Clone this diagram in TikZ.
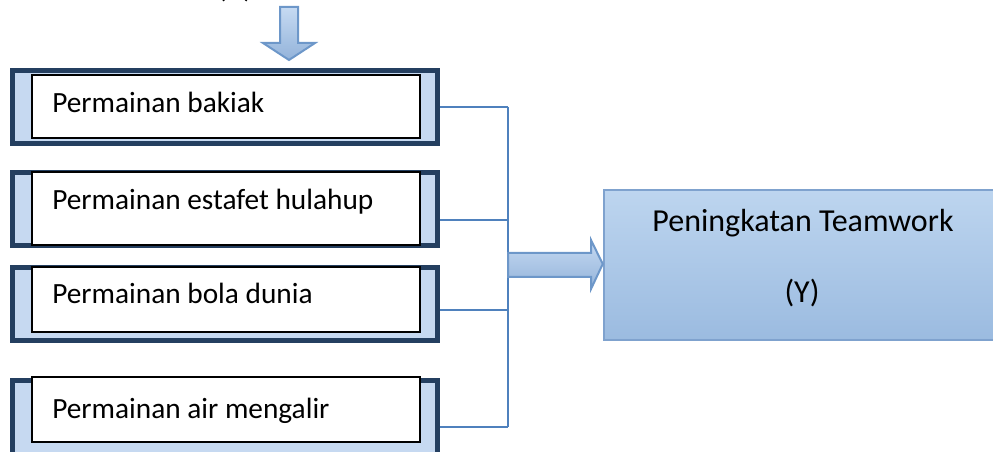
\documentclass[tikz,border=0pt]{standalone}
\usepackage{fontspec}
\setmainfont{Carlito}
\usetikzlibrary{fit}
\definecolor{navy}{HTML}{243F60}
\definecolor{lightfill}{HTML}{C6D9F1}
\definecolor{connblue}{HTML}{4F81BD}
\definecolor{ytop}{HTML}{BDD5EF}
\definecolor{ybot}{HTML}{9BBBE0}
\definecolor{yborder}{HTML}{7FA2CE}
\definecolor{arrtop}{HTML}{C6DAF2}
\definecolor{arrbot}{HTML}{93B3DA}
\definecolor{arrborder}{HTML}{6D97C9}
\begin{document}
\begin{tikzpicture}[x=0.75pt,y=-0.75pt,
  outerbox/.style={draw=navy, line width=3.75pt, fill=lightfill, inner sep=0pt},
  innerbox/.style={draw=black, line width=0.8pt, fill=white, inner sep=0pt},
  txt/.style={font=\fontsize{22}{24}\selectfont, anchor=base west, inner sep=0pt},
  ytxt/.style={font=\fontsize{24}{26}\selectfont, anchor=base, inner sep=0pt},
  conn/.style={draw=connblue, line width=1.5pt},
  fat/.style={draw=arrborder, line width=1.5pt, top color=arrtop, bottom color=arrbot, line join=miter},
  ybox/.style={draw=yborder, line width=1.9pt, top color=ytop, bottom color=ybot, inner sep=0pt}]
\useasboundingbox (0,0) rectangle (993,452);
\clip (0,0) rectangle (993,452);

% partially visible heading (cut off at the top edge, as in the reference)
\node[ytxt] (xlab) at (235,-2.8) {(X)};

% down arrow
\path[fat] (280,7) -- (298,7) -- (298,43) -- (315,43) -- (289,60) -- (263,43) -- (280,43) -- cycle;

% left boxes
\node[outerbox, fit={(12.5,70.5) (437.5,143.5)}] (b1) {};
\node[innerbox, fit={(32,75) (420,138)}] (w1) {};
\node[txt] (t1) at (52,113) {Permainan bakiak};

\node[outerbox, fit={(12.5,172.5) (437.5,245.5)}] (b2) {};
\node[innerbox, fit={(32,172) (420,245)}] (w2) {};
\node[txt] (t2) at (52,210) {Permainan estafet hulahup};

\node[outerbox, fit={(12.5,267.5) (437.5,340.5)}] (b3) {};
\node[innerbox, fit={(32,267) (420,332)}] (w3) {};
\node[txt] (t3) at (52,304) {Permainan bola dunia};

\node[outerbox, fit={(12.5,380.5) (437.5,455)}] (b4) {};
\node[innerbox, fit={(32,377) (420,442)}] (w4) {};
\node[txt] (t4) at (52,418) {Permainan air mengalir};

% right box
\node[ybox, fit={(604,190) (1002,340)}] (Y) {};
\node[ytxt] (yt1) at (803,232) {Peningkatan Teamwork};
\node[ytxt] (yt2) at (802,303) {(Y)};

% connectors
\coordinate (j1) at (508,107);
\coordinate (j2) at (508,220);
\coordinate (j3) at (508,310);
\coordinate (j4) at (508,427);
\draw[conn] (b1.east |- j1) -- (j1);
\draw[conn] (b2.east |- j2) -- (j2);
\draw[conn] (b3.east |- j3) -- (j3);
\draw[conn] (b4.east |- j4) -- (j4);
\draw[conn] (j1) -- (j4);

% fat arrow into Y
\path[fat] (508,253) -- (591,253) -- (591,240) -- (Y.west |- 0,264) -- (591,289) -- (591,277) -- (508,277) -- cycle;
\end{tikzpicture}
\end{document}
